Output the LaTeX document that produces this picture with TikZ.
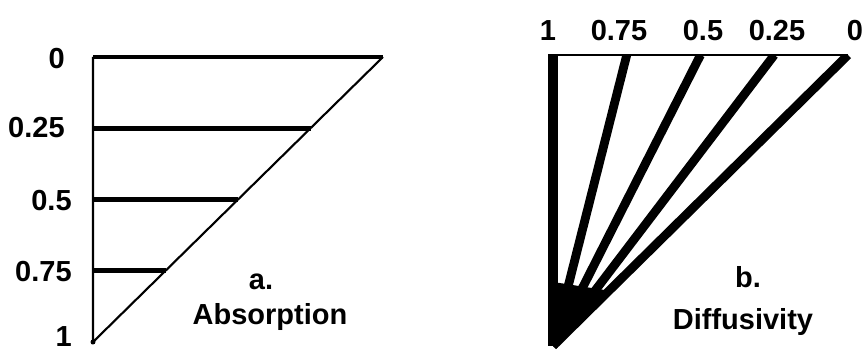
\documentclass[tikz,border=0pt]{standalone}
\usepackage{fontspec}
\setmainfont{Liberation Sans}
\usetikzlibrary{calc}

\begin{document}
\begin{tikzpicture}[
    x=0.02cm, y=-0.02cm,
    font=\fontsize{16.5}{19}\selectfont\bfseries,
    thinedge/.style={line width=1.2pt},
    levelbar/.style={line width=2.8pt},
    fanline/.style={line width=5pt},
    scalelabel/.style={inner sep=0pt, anchor=east},
    toplabel/.style={inner sep=0pt, anchor=base},
    caption/.style={inner sep=0pt, anchor=base}
]
\useasboundingbox (0,0) rectangle (867,351);

% Absorption triangle
\coordinate (absTop) at (93,57);
\coordinate (absTip) at (383,57);
\coordinate (absBot) at (93,342);

\draw[thinedge] (absTop) -- (absBot) -- (absTip);
\draw[levelbar] (absTop) -- (absTip);
\foreach \v in {0.25,0.5,0.75}
    \draw[levelbar] ($(absTop)!\v!(absBot)$) -- ($(absTip)!\v!(absBot)$);
\fill (absBot) circle (2.5);

% Absorption scale
\node[scalelabel] (absL0) at (65,59) {0};
\node[scalelabel] (absL1) at (65,128) {0.25};
\node[scalelabel] (absL2) at (72,201) {0.5};
\node[scalelabel] (absL3) at (72,272) {0.75};
\node[scalelabel] (absL4) at (72,337) {1};

\node[caption] (absTag) at (261,290) {a.};
\node[caption] (absName) at (270,325) {Absorption};

% Diffusivity fan
\coordinate (difTop) at (553,55);
\coordinate (difTip) at (848,55);
\coordinate (difBot) at (553,346);

\begin{scope}
    \clip (520,55) rectangle (867,351);
    \foreach \v in {0,0.25,0.5,0.75}
        \draw[fanline] (difBot) -- ($(difTop)!1-\v!(difTip)$);
    \draw[line width=5.5pt] (difBot) -- (difTop);
    \fill (difBot) -- ($(difBot)!0.22!(difTop)$) -- ($(difBot)!0.19!(difTip)$) -- cycle;
\end{scope}
\draw[thinedge] ($(difTop)+(-5,0)$) -- (difTip);

% Diffusivity scale
\node[toplabel] (difL4) at (548,41) {1};
\node[toplabel] (difL3) at (619,41) {0.75};
\node[toplabel] (difL2) at (703,41) {0.5};
\node[toplabel] (difL1) at (777,41) {0.25};
\node[toplabel] (difL0) at (855,41) {0};

\node[caption] (difTag) at (748,288) {b.};
\node[caption] (difName) at (743,330) {Diffusivity};

\end{tikzpicture}
\end{document}
